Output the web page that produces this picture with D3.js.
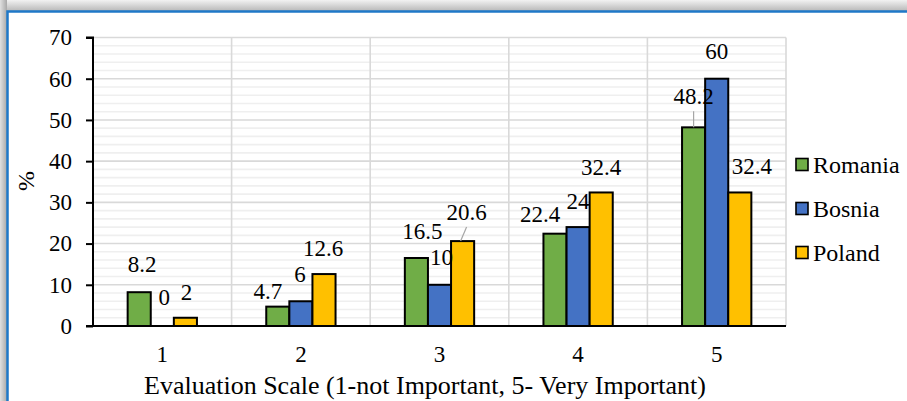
<!DOCTYPE html>
<html>
<head>
<meta charset="utf-8">
<script src="https://cdn.jsdelivr.net/npm/d3@7"></script>
<style>
  html, body { margin: 0; padding: 0; background: #fff; }
  svg { display: block; }
</style>
</head>
<body>
<svg id="chart" width="907" height="401"></svg>
<script>
// Survey results by evaluation score (percent of respondents)
const categories = ["1", "2", "3", "4", "5"];
const seriesNames = ["Romania", "Bosnia", "Poland"];
const romania = [8.2, 4.7, 16.5, 22.4, 48.2];
const bosnia = [0, 6, 10, 24, 60];
const poland = [2, 12.6, 20.6, 32.4, 32.4];
const yTicks = [0, 10, 20, 30, 40, 50, 60, 70];
const colors = ["#70ad47", "#4472c4", "#ffc000"];
// hand-placed nudges for value labels (dx, dy) per series, per category
const labelNudge = [
  [[3, -1], [-10, 11], [6, 0], [-15, 7], [0, -4]],
  [[2, -2], [-1, 0], [2, -1], [0, 1], [0, -0.5]],
  [[1, 1], [-1, 1], [4, -2], [0, 1.6], [12, 0.6]]
];
// labels joined to their bar by a short leader line
const leaders = [[0, 4], [2, 2]];

const FONT = "'Liberation Serif', 'Times New Roman', serif";
const values = [romania, bosnia, poland];
const svg = d3.select("#chart").style("font-family", FONT);
const W = 907, H = 401;

// window frame: grey shadow and blue border
const defs = svg.append("defs");
const gTop = defs.append("linearGradient").attr("id", "shadeTop").attr("x1", 0).attr("y1", 0).attr("x2", 0).attr("y2", 1);
gTop.append("stop").attr("offset", "0%").attr("stop-color", "#f2f2f2");
gTop.append("stop").attr("offset", "100%").attr("stop-color", "#b8b8b8");
const gLeft = defs.append("linearGradient").attr("id", "shadeLeft").attr("x1", 0).attr("y1", 0).attr("x2", 1).attr("y2", 0);
gLeft.append("stop").attr("offset", "0%").attr("stop-color", "#e0e0e0");
gLeft.append("stop").attr("offset", "100%").attr("stop-color", "#a8a8a8");
svg.append("rect").attr("x", 0).attr("y", 0).attr("width", W).attr("height", 11).attr("fill", "url(#shadeTop)");
svg.append("rect").attr("x", 0).attr("y", 0).attr("width", 7).attr("height", H).attr("fill", "url(#shadeLeft)");
svg.append("rect").attr("x", 7.5).attr("y", 11.5).attr("width", W + 10).attr("height", H + 10)
  .attr("fill", "#fff").attr("stroke", "#1f78c8").attr("stroke-width", 2.5);

const plot = { left: 93, right: 786, top: 37.5, bottom: 326 };

const x = d3.scaleBand().domain(categories).range([plot.left, plot.right]).paddingInner(0).paddingOuter(0);
const xs = d3.scaleBand().domain(seriesNames).range([0, x.bandwidth() * 0.5]);
const y = d3.scaleLinear().domain([0, 70]).range([plot.bottom, plot.top]);

// minor horizontal gridlines
const minor = d3.range(0, 71, 2).filter(v => v % 10 !== 0);
svg.append("g").selectAll("line").data(minor).join("line")
  .attr("x1", plot.left).attr("x2", plot.right)
  .attr("y1", d => y(d)).attr("y2", d => y(d))
  .attr("stroke", "#efefef").attr("stroke-width", 1.6);

// major horizontal gridlines
svg.append("g").selectAll("line").data(yTicks.slice(1)).join("line")
  .attr("x1", plot.left).attr("x2", plot.right)
  .attr("y1", d => y(d)).attr("y2", d => y(d))
  .attr("stroke", "#d9d9d9").attr("stroke-width", 1.6);

// vertical gridlines between categories
const bounds = categories.map(c => x(c) + x.bandwidth());
svg.append("g").selectAll("line").data(bounds).join("line")
  .attr("x1", d => d).attr("x2", d => d)
  .attr("y1", plot.top).attr("y2", plot.bottom)
  .attr("stroke", "#d9d9d9").attr("stroke-width", 1.6);

// bars
const groups = svg.append("g").selectAll("g").data(seriesNames).join("g")
  .attr("fill", (d, i) => colors[i]);
groups.each(function (s, si) {
  d3.select(this).selectAll("rect").data(values[si]).join("rect")
    .attr("x", (v, ci) => x(categories[ci]) + x.bandwidth() * 0.25 + xs(s))
    .attr("y", v => y(v))
    .attr("width", xs.bandwidth())
    .attr("height", v => y(0) - y(v))
    .attr("stroke", "#000").attr("stroke-width", 2)
    .style("display", v => v === 0 ? "none" : null);
});

// y axis
const yAxis = svg.append("g").attr("transform", `translate(${plot.left},0)`)
  .call(d3.axisLeft(y).tickValues(yTicks).tickSize(7).tickPadding(14));
yAxis.attr("font-family", null).attr("font-size", null);
yAxis.select(".domain").attr("stroke", "#000").attr("stroke-width", 2).attr("d", `M-7,${plot.top}H0V${plot.bottom}`);
yAxis.selectAll(".tick line").attr("stroke", "#000").attr("stroke-width", 2);
yAxis.selectAll(".tick text").style("font-family", FONT).style("font-size", "23px").attr("fill", "#000");

// x axis
const xAxis = svg.append("g").attr("transform", `translate(0,${plot.bottom})`)
  .call(d3.axisBottom(x).tickSize(0).tickPadding(20));
xAxis.attr("font-family", null).attr("font-size", null);
xAxis.select(".domain").attr("stroke", "#000").attr("stroke-width", 2).attr("d", `M${plot.left - 7},0H${plot.right}`);
xAxis.selectAll(".tick text").style("font-family", FONT).style("font-size", "23px").attr("fill", "#000");

// value labels
const barCenter = (si, ci) => x(categories[ci]) + x.bandwidth() * 0.25 + xs(seriesNames[si]) + xs.bandwidth() / 2;
const labelPos = (si, ci) => {
  const v = values[si][ci];
  return [barCenter(si, ci) + labelNudge[si][ci][0], y(v) - 19 + labelNudge[si][ci][1]];
};
// leader lines
leaders.forEach(([si, ci]) => {
  const [lx, ly] = labelPos(si, ci);
  const v = values[si][ci];
  svg.append("line").attr("x1", lx).attr("y1", ly + 7).attr("x2", barCenter(si, ci) - (si === 2 ? 2 : 0)).attr("y2", y(v))
    .attr("stroke", "#a6a6a6").attr("stroke-width", 1.2);
});
const labels = svg.append("g").attr("text-anchor", "middle");
seriesNames.forEach((s, si) => {
  values[si].forEach((v, ci) => {
    const [lx, ly] = labelPos(si, ci);
    labels.append("text").attr("x", lx).attr("y", ly)
      .style("font-family", FONT).style("font-size", "23px").attr("fill", "#000").text(v);
  });
});

// axis titles
svg.append("text").attr("x", 425).attr("y", 394).attr("text-anchor", "middle")
  .style("font-family", FONT).style("font-size", "26px").text("Evaluation Scale (1-not Important, 5- Very Important)");
svg.append("text").attr("transform", "translate(34,181) rotate(-90)").attr("text-anchor", "middle")
  .style("font-family", FONT).style("font-size", "24px").text("%");

// legend
const legend = svg.append("g").selectAll("g").data(seriesNames).join("g")
  .attr("transform", (d, i) => `translate(796,${165 + i * 44})`);
legend.append("rect").attr("x", 0).attr("y", -6.5).attr("width", 12).attr("height", 12)
  .attr("fill", (d, i) => colors[i]).attr("stroke", "#000").attr("stroke-width", 1.6);
legend.append("text").attr("x", 17).attr("y", 8)
  .style("font-family", FONT).style("font-size", "24px").text(d => d);
</script>
</body>
</html>
